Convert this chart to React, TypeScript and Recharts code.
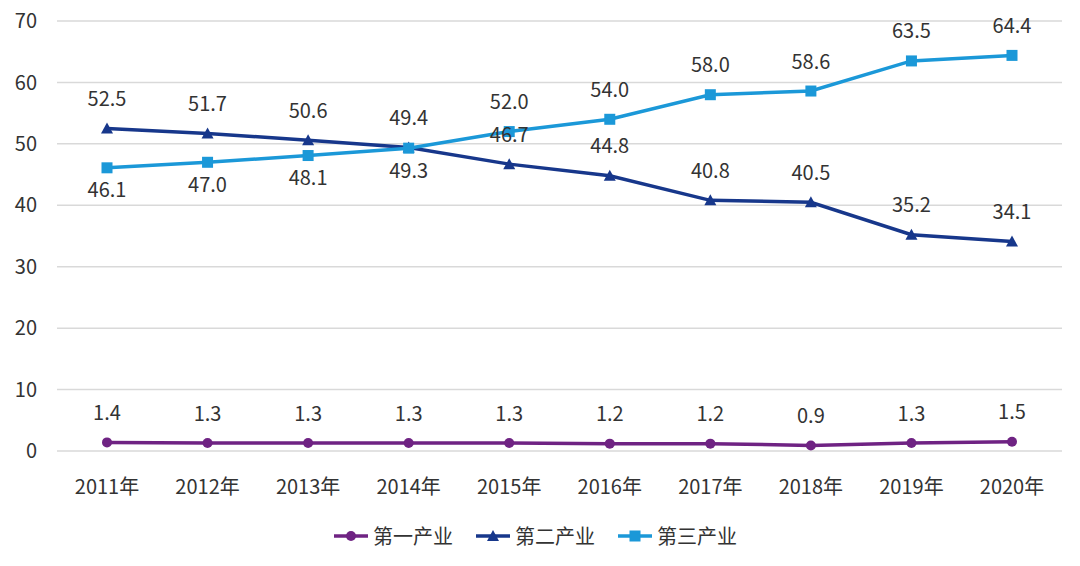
import React from "react";
import { CartesianGrid, Legend, Line, LineChart, XAxis, YAxis } from "recharts";

const years = ["2011年", "2012年", "2013年", "2014年", "2015年", "2016年", "2017年", "2018年", "2019年", "2020年"];
const primary = [1.4, 1.3, 1.3, 1.3, 1.3, 1.2, 1.2, 0.9, 1.3, 1.5];
const secondary = [52.5, 51.7, 50.6, 49.4, 46.7, 44.8, 40.8, 40.5, 35.2, 34.1];
const tertiary = [46.1, 47.0, 48.1, 49.3, 52.0, 54.0, 58.0, 58.6, 63.5, 64.4];
const yTicks = [0, 10, 20, 30, 40, 50, 60, 70];

const data = years.map((year, i) => ({
  year,
  primary: primary[i],
  secondary: secondary[i],
  tertiary: tertiary[i],
}));

const PURPLE = "#6f2383";
const NAVY = "#17378b";
const LIGHT = "#1b98d8";
const FONT = "'Noto Sans CJK SC', 'Noto Sans', sans-serif";

const series = [
  { key: "primary", name: "第一产业", color: PURPLE, shape: "circle" },
  { key: "secondary", name: "第二产业", color: NAVY, shape: "triangle" },
  { key: "tertiary", name: "第三产业", color: LIGHT, shape: "square" },
];

function Marker({ cx, cy, shape, color }: { cx: number; cy: number; shape: string; color: string }) {
  if (shape === "triangle") {
    return <polygon points={`${cx},${cy - 6} ${cx - 6},${cy + 5} ${cx + 6},${cy + 5}`} fill={color} />;
  }
  if (shape === "square") {
    return <rect x={cx - 5.5} y={cy - 5.5} width={11} height={11} fill={color} />;
  }
  return <circle cx={cx} cy={cy} r={5} fill={color} />;
}

function makeDot(shape: string, color: string) {
  return (props: any) => {
    const { cx, cy, index } = props;
    if (cx == null || cy == null) return <g key={index} />;
    return <Marker key={index} cx={cx} cy={cy} shape={shape} color={color} />;
  };
}

function makeLabel(below: (i: number) => boolean) {
  return (props: any) => {
    const { x, y, value, index } = props;
    const dy = below(index) ? 21 : -31;
    return (
      <text
        key={index}
        x={x}
        y={y + dy}
        textAnchor="middle"
        dominantBaseline="central"
        fontSize={20}
        fill="#333"
        fontFamily={FONT}
      >
        {Number(value).toFixed(1)}
      </text>
    );
  };
}

function LegendContent() {
  return (
    <div
      style={{
        display: "flex",
        justifyContent: "center",
        gap: 22,
        paddingTop: 10,
        paddingLeft: 8,
        fontFamily: FONT,
        fontSize: 20,
        color: "#333",
      }}
    >
      {series.map((s) => (
        <div key={s.key} style={{ display: "flex", alignItems: "center" }}>
          <svg width={36} height={14} style={{ marginRight: 4 }}>
            <line x1={1} y1={7} x2={35} y2={7} stroke={s.color} strokeWidth={3.5} />
            <Marker cx={18} cy={7} shape={s.shape} color={s.color} />
          </svg>
          <span>{s.name}</span>
        </div>
      ))}
    </div>
  );
}

export default function App() {
  return (
    <div style={{ width: 1080, height: 566, background: "#fff" }}>
      <style>{"body{margin:0}"}</style>
      <LineChart width={1080} height={566} data={data} margin={{ top: 21, right: 18, left: 0, bottom: 10 }}>
        <CartesianGrid vertical={false} stroke="#d9d9d9" strokeWidth={1.5} />
        <XAxis
          dataKey="year"
          axisLine={false}
          tickLine={false}
          tickSize={0}
          tickMargin={29}
          height={60}
          padding={{ left: 50, right: 50 }}
          interval={0}
          tick={{ fontSize: 20, fill: "#333", fontFamily: FONT }}
        />
        <YAxis
          domain={[0, 70]}
          ticks={yTicks}
          width={57}
          axisLine={false}
          tickLine={false}
          tickSize={0}
          tickMargin={20}
          tick={{ fontSize: 20, fill: "#333", fontFamily: FONT }}
        />
        <Legend verticalAlign="bottom" height={45} content={<LegendContent />} />
        <Line
          dataKey="primary"
          name="第一产业"
          stroke={PURPLE}
          strokeWidth={3.5}
          dot={makeDot("circle", PURPLE)}
          label={makeLabel(() => false)}
          isAnimationActive={false}
        />
        <Line
          dataKey="secondary"
          name="第二产业"
          stroke={NAVY}
          strokeWidth={3.5}
          dot={makeDot("triangle", NAVY)}
          label={makeLabel(() => false)}
          isAnimationActive={false}
        />
        <Line
          dataKey="tertiary"
          name="第三产业"
          stroke={LIGHT}
          strokeWidth={3.5}
          dot={makeDot("square", LIGHT)}
          label={makeLabel((i) => i < 4)}
          isAnimationActive={false}
        />
      </LineChart>
    </div>
  );
}
